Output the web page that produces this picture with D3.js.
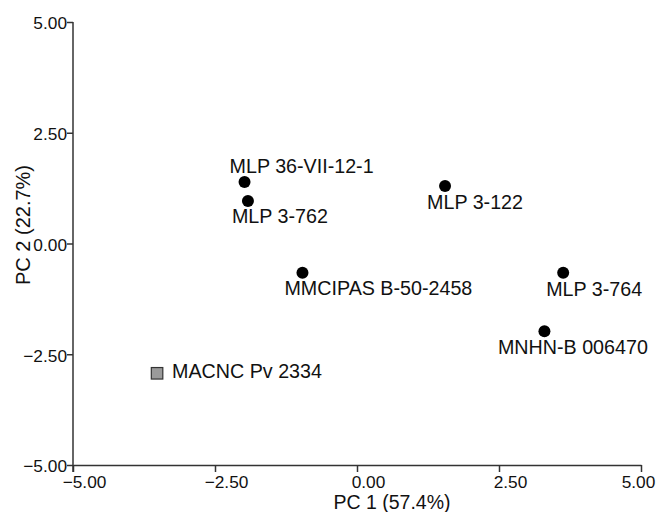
<!DOCTYPE html>
<html>
<head>
<meta charset="utf-8">
<script src="https://cdn.jsdelivr.net/npm/d3@7"></script>
<style>
  html, body { margin: 0; padding: 0; background: #fff; }
  svg { display: block; font-family: "Liberation Sans", Arial, sans-serif; }
</style>
</head>
<body>
<svg id="chart" width="657" height="512"></svg>
<script>
// ---- data ----
const specimens = ["MLP 36-VII-12-1", "MLP 3-762", "MLP 3-122", "MMCIPAS B-50-2458", "MLP 3-764", "MNHN-B 006470", "MACNC Pv 2334"];
const pc1 = [-1.98, -1.92, 1.55, -0.96, 3.63, 3.30, -3.52];
const pc2 = [1.39, 0.96, 1.30, -0.66, -0.66, -1.98, -2.93];
const markerType = ["circle", "circle", "circle", "circle", "circle", "circle", "square"];
const tickValues = [-5, -2.5, 0, 2.5, 5];
const xTitle = "PC 1 (57.4%)";
const yTitle = "PC 2 (22.7%)";

// ---- layout (label offsets relative to marker, px) ----
const labelOffset = [
  { dx: -15, dy: -9, anchor: "start" },
  { dx: -16, dy: 22, anchor: "start" },
  { dx: -18, dy: 23.5, anchor: "start" },
  { dx: -18, dy: 22, anchor: "start" },
  { dx: -17, dy: 23.5, anchor: "start" },
  { dx: -46.5, dy: 23, anchor: "start" },
  { dx: 15, dy: 4.5, anchor: "start" }
];

const svg = d3.select("#chart");
const x = d3.scaleLinear().domain([-5, 5]).range([73, 641]);
const y = d3.scaleLinear().domain([-5, 5]).range([465, 22]);
const fmt = d3.format(".2f");

// x axis
const gx = svg.append("g").attr("transform", `translate(0,${y(-5)})`)
  .call(d3.axisBottom(x).tickValues(tickValues).tickFormat(fmt).tickSize(7).tickSizeOuter(0));
gx.select(".domain").attr("stroke", "#333").attr("stroke-width", 1.5);
gx.selectAll(".tick line").attr("stroke", "#333").attr("stroke-width", 1.5);
gx.selectAll(".tick text")
  .attr("font-size", 17.3).attr("fill", "#111")
  .attr("font-family", "Liberation Sans, Arial, sans-serif")
  .attr("y", 23).attr("dy", 0)
  .attr("dx", (d, i) => i === tickValues.length - 1 ? -3 : 11);

// y axis
const gy = svg.append("g").attr("transform", `translate(${x(-5)},0)`)
  .call(d3.axisLeft(y).tickValues(tickValues).tickFormat(fmt).tickSize(6).tickSizeOuter(0));
gy.select(".domain").attr("stroke", "#333").attr("stroke-width", 1.5)
  .attr("d", `M0,${y(5)}V${y(-5) + 7}`);
gy.selectAll(".tick line").attr("stroke", "#333").attr("stroke-width", 1.5);
gy.selectAll(".tick text")
  .attr("font-size", 17.3).attr("fill", "#111")
  .attr("font-family", "Liberation Sans, Arial, sans-serif")
  .attr("x", -6).attr("dy", "0.4em");

// axis titles
svg.append("text").attr("x", 392).attr("y", 509)
  .attr("text-anchor", "middle").attr("font-size", 19.5).attr("fill", "#111")
  .text(xTitle);
svg.append("text").attr("transform", "translate(30,225) rotate(-90)")
  .attr("text-anchor", "middle").attr("font-size", 20).attr("fill", "#111")
  .text(yTitle);

// markers
const pts = specimens.map((name, i) => ({ name, px: pc1[i], py: pc2[i], type: markerType[i], off: labelOffset[i] }));

svg.append("g").selectAll("circle")
  .data(pts.filter(d => d.type === "circle"))
  .join("circle")
  .attr("cx", d => x(d.px)).attr("cy", d => y(d.py)).attr("r", 6)
  .attr("fill", "#000");

const sq = 11.5;
svg.append("g").selectAll("rect")
  .data(pts.filter(d => d.type === "square"))
  .join("rect")
  .attr("x", d => x(d.px) - sq / 2).attr("y", d => y(d.py) - sq / 2)
  .attr("width", sq).attr("height", sq)
  .attr("fill", "#9a9a9a").attr("stroke", "#333").attr("stroke-width", 1.2);

svg.append("g").selectAll("text")
  .data(pts)
  .join("text")
  .attr("x", d => x(d.px) + d.off.dx)
  .attr("y", d => y(d.py) + d.off.dy)
  .attr("text-anchor", d => d.off.anchor)
  .attr("font-size", 19.7).attr("fill", "#111")
  .text(d => d.name);
</script>
</body>
</html>
